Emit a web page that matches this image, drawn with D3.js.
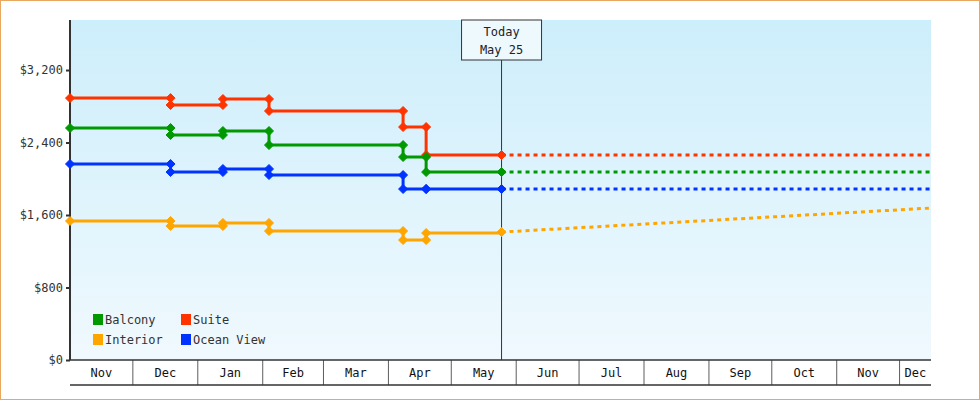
<!DOCTYPE html>
<html><head><meta charset="utf-8">
<script src="https://cdn.jsdelivr.net/npm/d3@7"></script>
<style>body{margin:0;background:#fff}svg{font-family:"DejaVu Sans Mono",monospace;font-size:12px}</style>
</head><body><div id="chart"></div>
<script>
const seriesNames = ["Balcony", "Suite", "Interior", "Ocean View"];
const seriesColors = ["#009900", "#ff3300", "#ffa500", "#0033ff"];
const changeDates = ["2023-11-01", "2023-12-19", "2024-01-13", "2024-02-04", "2024-04-08", "2024-04-19"];
const balcony = [2560, 2483, 2527, 2372, 2240, 2074];
const suite = [2890, 2814, 2880, 2748, 2571, 2262];
const interior = [1534, 1479, 1512, 1423, 1324, 1401];
const oceanView = [2163, 2074, 2108, 2041, 1887, 1887];
const forecastEnd = [2074, 2262, 1677, 1887];
const todayValueInterior = 1412;
const yTicks = [0, 800, 1600, 2400, 3200];
const monthLabels = ["Nov","Dec","Jan","Feb","Mar","Apr","May","Jun","Jul","Aug","Sep","Oct","Nov","Dec"];

const width = 980, height = 400;
const margin = {top: 20, left: 70, bottom: 40, right: 49};
const iwidth = width - margin.left - margin.right;
const iheight = height - margin.top - margin.bottom;
const parse = d3.timeParse("%Y-%m-%d");
const today = parse("2024-05-25");
const start = parse("2023-11-01"), end = parse("2024-12-16");

const svg = d3.select("#chart").append("svg").attr("width", width).attr("height", height);
svg.append("rect").attr("x", 0.5).attr("y", 0.5).attr("width", width - 1).attr("height", height - 1)
  .attr("fill", "#fff").attr("stroke", "#e8a860");
const defs = svg.append("defs");
const grad = defs.append("linearGradient").attr("id", "bg").attr("x1", 0).attr("y1", 0).attr("x2", 0).attr("y2", 1);
grad.append("stop").attr("offset", 0).attr("stop-color", "#cdeefb");
grad.append("stop").attr("offset", 1).attr("stop-color", "#f0f9fe");

const g = svg.append("g").attr("transform", `translate(${margin.left},${margin.top})`);
g.append("rect").attr("width", iwidth).attr("height", iheight).attr("fill", "url(#bg)");

const x = d3.scaleTime().domain([start, end]).range([0, iwidth]);
const y = d3.scaleLinear().domain([0, 3752]).range([iheight, 0]);

// y axis
const ya = g.append("g").call(d3.axisLeft(y).tickValues(yTicks).tickSize(4).tickFormat(d => "$" + d3.format(",")(d)));
ya.select(".domain").attr("stroke", "#333").attr("stroke-width", 2).attr("d", `M0,0V${iheight}`);
ya.selectAll(".tick line").attr("stroke", "#333").attr("stroke-width", 2);
ya.selectAll("text").attr("fill", "#333").attr("font-family", "DejaVu Sans Mono").attr("font-size", 12);

// x axis: month boxes
const months = d3.timeMonth.range(start, end);
const xa = g.append("g").attr("transform", `translate(0,${iheight})`);
xa.append("line").attr("x1", 0).attr("x2", iwidth).attr("stroke", "#333").attr("stroke-width", 1.5);
xa.append("line").attr("x1", 0).attr("x2", iwidth).attr("y1", 25).attr("y2", 25).attr("stroke", "#333").attr("stroke-width", 1.5);
months.forEach((m, i) => {
  const x0 = x(m), x1 = Math.min(iwidth, x(d3.timeMonth.offset(m, 1)));
  if (i > 0) xa.append("line").attr("x1", x0).attr("x2", x0).attr("y1", 0).attr("y2", 25).attr("stroke", "#333").attr("stroke-width", 0.8);
  xa.append("text").attr("x", (x0 + x1) / 2).attr("y", 17).attr("text-anchor", "middle").attr("fill", "#111").text(monthLabels[i]);
});

// today line
g.append("line").attr("x1", x(today)).attr("x2", x(today)).attr("y1", 40).attr("y2", iheight).attr("stroke", "#333");
const tb = g.append("g").attr("transform", `translate(${x(today)},0)`);
tb.append("rect").attr("x", -40).attr("y", 0).attr("width", 80).attr("height", 40).attr("fill", "#eef9fd").attr("stroke", "#333");
tb.append("text").attr("y", 16).attr("text-anchor", "middle").attr("fill", "#222").text("Today");
tb.append("text").attr("y", 34).attr("text-anchor", "middle").attr("fill", "#222").text("May 25");

const data = [balcony, suite, interior, oceanView];
const dates = changeDates.map(parse);
const drawOrder = [1, 0, 3, 2];
const diamond = "M0,-4.5L4.5,0L0,4.5L-4.5,0Z";
drawOrder.forEach(si => {
  const vals = data[si], col = seriesColors[si];
  const todayVal = si === 2 ? todayValueInterior : vals[vals.length - 1];
  const pts = dates.map((d, i) => [d, vals[i]]).concat([[today, todayVal]]);
  const line = d3.line().x(d => x(d[0])).y(d => y(d[1])).curve(d3.curveStepAfter);
  g.append("path").attr("d", line(pts)).attr("fill", "none").attr("stroke", col).attr("stroke-width", 3);
  g.append("line").attr("x1", x(today)).attr("y1", y(todayVal)).attr("x2", iwidth).attr("y2", y(forecastEnd[si]))
    .attr("stroke", col).attr("stroke-width", 3).attr("stroke-dasharray", "4,4");
  const marks = [];
  pts.forEach((p, i) => {
    marks.push(p);
    if (i > 0 && i < pts.length - 1) marks.push([p[0], pts[i - 1][1]]);
  });
  g.selectAll(null).data(marks).enter().append("path")
    .attr("d", diamond).attr("stroke", col).attr("stroke-width", 1).attr("stroke-linejoin", "round")
    .attr("transform", d => `translate(${x(d[0])},${y(d[1])})`).attr("fill", col);
});

// legend
const lg = g.append("g").attr("transform", "translate(23,294)");
[[0, 0, 0], [1, 88, 0], [2, 0, 20], [3, 88, 20]].forEach(([si, lx, ly]) => {
  lg.append("rect").attr("x", lx).attr("y", ly).attr("width", 10).attr("height", 11).attr("fill", seriesColors[si]);
  lg.append("text").attr("x", lx + 12).attr("y", ly + 10).attr("fill", "#333").text(seriesNames[si]);
});
</script></body></html>
